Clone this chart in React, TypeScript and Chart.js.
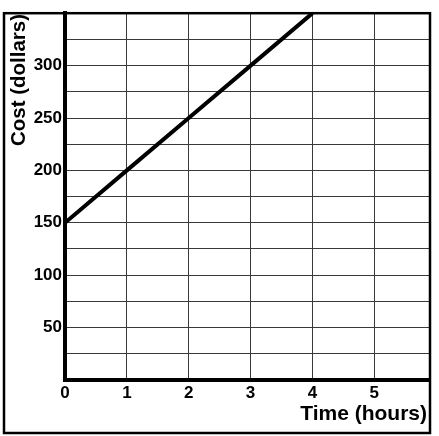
import React, { useEffect, useRef } from "react";
import { Chart, registerables } from "chart.js";

Chart.register(...registerables);

const timeHours = [0, 1, 2, 3, 4];
const costDollars = [150, 200, 250, 300, 350];
const yTickLabels = [50, 100, 150, 200, 250, 300];
const xTickLabels = [0, 1, 2, 3, 4, 5];
const xTitle = "Time (hours)";
const yTitle = "Cost (dollars)";

const FONT = "'Liberation Sans', Arial, Helvetica, sans-serif";

const framePlugin = {
  id: "frame",
  afterDraw(chart: any) {
    const ctx = chart.ctx;
    const area = chart.chartArea;
    ctx.save();
    ctx.strokeStyle = "#000";
    ctx.lineWidth = 2.5;
    ctx.strokeRect(4, area.top, area.right - 4, 433 - area.top);
    // y title
    ctx.fillStyle = "#000";
    ctx.font = `bold 20.5px ${FONT}`;
    ctx.translate(19, 80);
    ctx.rotate(-Math.PI / 2);
    ctx.textAlign = "center";
    ctx.textBaseline = "middle";
    ctx.fillText(yTitle, 0, 0);
    ctx.restore();
    ctx.save();
    ctx.fillStyle = "#000";
    ctx.font = `bold 21px ${FONT}`;
    ctx.textAlign = "right";
    ctx.textBaseline = "middle";
    ctx.fillText(xTitle, 427, 414);
    ctx.restore();
  },
};

export default function App() {
  const ref = useRef<HTMLCanvasElement>(null);
  useEffect(() => {
    document.body.style.margin = "0";
    const chart = new Chart(ref.current!, {
      type: "line",
      data: {
        datasets: [
          {
            data: timeHours.map((x, i) => ({ x, y: costDollars[i] })),
            borderColor: "#000",
            borderWidth: 4,
            pointRadius: 0,
            tension: 0,
          },
        ],
      },
      options: {
        animation: false,
        responsive: false,
        layout: { padding: { left: 0, top: 10, right: 9, bottom: 0 } },
        plugins: { legend: { display: false }, tooltip: { enabled: false } },
        scales: {
          x: {
            type: "linear",
            min: 0,
            max: 5.9,
            afterFit(scale: any) {
              scale.height = 56;
            },
            afterBuildTicks(scale: any) {
              scale.ticks = xTickLabels.map((v) => ({ value: v }));
            },
            ticks: {
              color: "#000",
              font: { family: FONT, size: 17, weight: "bold" },
              padding: 3,
              maxRotation: 0,
              autoSkip: false,
            },
            grid: { color: "#3a3a3a", lineWidth: 1, drawTicks: false },
            border: { color: "#000", width: 4 },
          },
          y: {
            min: 0,
            max: 350,
            afterFit(scale: any) {
              scale.width = 65;
            },
            afterBuildTicks(scale: any) {
              const t = [];
              for (let v = 0; v <= 350; v += 25) t.push({ value: v });
              scale.ticks = t;
            },
            ticks: {
              color: "#000",
              font: { family: FONT, size: 17, weight: "bold" },
              padding: 3,
              autoSkip: false,
              callback: (v: any) => (yTickLabels.includes(Number(v)) ? String(v) : ""),
            },
            grid: { color: "#3a3a3a", lineWidth: 1, drawTicks: false },
            border: { color: "#000", width: 4 },
          },
        },
      },
      plugins: [framePlugin],
    });
    return () => chart.destroy();
  }, []);
  return (
    <div style={{ width: 439, height: 436, background: "#fff" }}>
      <canvas ref={ref} width={439} height={436} />
    </div>
  );
}
